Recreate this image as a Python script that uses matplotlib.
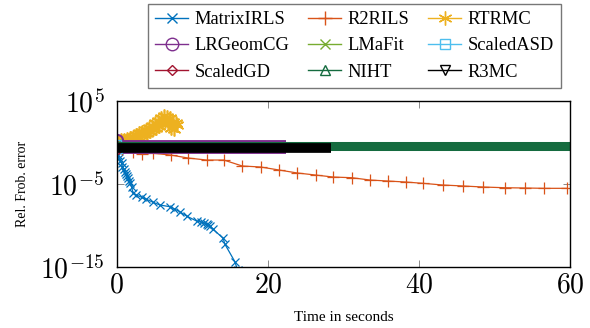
import numpy as np
import matplotlib.pyplot as plt
from matplotlib.lines import Line2D

plt.rcParams['font.family'] = ['Liberation Serif', 'DejaVu Serif']
plt.rcParams['mathtext.fontset'] = 'cm'

# MatrixIRLS
t_mirls = [0.0, 0.1, 0.17, 0.3, 0.45, 0.62, 0.75, 0.9, 1.06, 1.2, 1.35, 1.5, 1.65, 1.8, 1.95,
           2.16, 2.6, 3.3, 3.93, 4.8, 5.7, 7.0, 7.6, 8.34, 9.23, 10.56, 11.2, 11.6, 11.9, 12.1,
           12.3, 12.76, 14.08, 14.3, 15.63, 16.0]
e_mirls = [-0.3, -0.9, -1.5, -1.9, -2.2, -2.5, -2.9, -3.2, -3.52, -3.8, -4.0, -4.31, -4.6, -4.9,
           -5.33, -6.12, -6.33, -6.6, -6.84, -7.2, -7.53, -7.73, -8.0, -8.34, -8.86, -9.46, -9.6,
           -9.75, -9.85, -9.94, -10.05, -10.46, -11.54, -12.23, -14.36, -15.4]

# R2RILS
t_r2 = [0.0, 0.7, 2.1, 3.4, 4.81, 7.15, 9.44, 11.88, 14.17, 16.6, 19.03, 21.46, 23.88, 26.32,
        28.65, 31.09, 33.51, 35.85, 38.23, 40.57, 43.14, 45.87, 48.44, 51.39, 54.04, 56.6, 59.56]
e_r2 = [0.0, -0.8, -1.2, -1.35, -1.30, -1.51, -1.87, -2.11, -2.11, -2.83, -2.95, -3.31, -3.67,
        -3.92, -4.16, -4.24, -4.52, -4.64, -4.76, -4.92, -5.12, -5.24, -5.36, -5.45, -5.48,
        -5.52, -5.52]

# RTRMC (noisy)
t_rt = [0.0, 0.2, 0.4, 0.6, 0.8, 1.0, 1.2, 1.4, 1.6, 1.8, 2.0, 2.2, 2.4, 2.6, 2.8, 3.0, 3.2,
        3.4, 3.6, 3.8, 4.0, 4.2, 4.4, 4.6, 4.8, 5.0, 5.2, 5.4, 5.6, 5.8, 6.0, 6.2, 6.4, 6.6,
        6.8, 7.0, 7.2, 7.4, 7.6, 7.8, 8.0]
e_rt = [0.0, 0.1, 0.05, 0.25, 0.15, 0.3, 0.2, 0.45, 0.3, 0.55, 0.4, 0.7, 0.5, 0.9, 0.7, 1.1,
        0.85, 1.3, 1.0, 1.5, 1.2, 1.8, 1.4, 2.0, 1.6, 2.3, 1.8, 2.6, 2.0, 2.9, 2.3, 3.2, 2.6,
        3.1, 2.3, 2.9, 1.7, 2.5, 1.6, 2.4, 2.1]

# LRGeomCG, NIHT, R3MC (flat, dense markers -> bands)
t_lrg = [0.0, 22.4]
e_lrg = [-0.54, -0.54]
t_niht = [0.0, 60.0]
e_niht = [-0.36, -0.36]
t_r3 = [0.0, 28.4]
e_r3 = [-0.62, -0.62]

# short runs near t = 0
t_lmf = [0.0, 0.2]
e_lmf = [0.0, -0.6]
t_sasd = [0.0, 0.15]
e_sasd = [-0.2, -0.8]
t_sgd = [0.0, 0.2]
e_sgd = [-0.3, -0.9]

names = ['MatrixIRLS', 'R2RILS', 'RTRMC', 'LRGeomCG', 'LMaFit', 'ScaledASD',
         'ScaledGD', 'NIHT', 'R3MC']
colors = ['#0072BD', '#D95319', '#EDB120', '#7E2F8E', '#77AC30', '#4DBEEE',
          '#A2142F', '#156B3F', 'black']
markers = ['x', '+', (6, 2, 0), 'o', 'x', 's', 'D', '^', 'v']

fig = plt.figure(figsize=(5.9, 3.28), dpi=100)
ax = fig.add_axes([0.198, 0.186, 0.768, 0.506])

p = lambda e: 10.0 ** np.array(e)

ax.plot(t_mirls, p(e_mirls), color=colors[0], marker='x', ms=6, mew=0.9, lw=0.9)
ax.plot(t_r2, p(e_r2), color=colors[1], marker='+', ms=9, mew=0.9, lw=0.9)
ax.plot(t_rt, p(e_rt), color=colors[2], marker=(6, 2, 0), ms=10, mew=1.2, lw=0.9)
ax.plot(t_lrg, p(e_lrg), color=colors[3], lw=10, solid_capstyle='butt')
ax.plot([0], [10 ** 0.3], color=colors[3], marker='o', ms=8, mfc='none', mew=1.5)
ax.plot(t_lmf, p(e_lmf), color=colors[4], marker='x', ms=6, lw=0.9)
ax.plot(t_sasd, p(e_sasd), color=colors[5], marker='s', ms=6, mfc='none', lw=0.9)
ax.plot(t_sgd, p(e_sgd), color=colors[6], marker='D', ms=4, mfc='none', lw=0.9)
ax.plot(t_niht, p(e_niht), color=colors[7], lw=6.5, solid_capstyle='butt')
ax.plot(t_r3, p(e_r3), color=colors[8], lw=7, solid_capstyle='butt')

ax.set_yscale('log')
ax.set_xlim(0, 60)
ax.set_ylim(1e-15, 1e5)
ax.set_xticks([0, 20, 40, 60])
ax.set_xticklabels([r'$0$', r'$20$', r'$40$', r'$60$'])
ax.set_yticks([1e-15, 1e-5, 1e5])
ax.set_yticklabels([r'$10^{-15}$', r'$10^{-5}$', r'$10^{5}$'])
ax.yaxis.set_minor_locator(plt.NullLocator())
ax.tick_params(direction='in', top=True, right=True, length=5, width=0.6,
               labelsize=20, color='#777777')
ax.tick_params(axis='y', pad=9)
ax.tick_params(axis='x', pad=5)
for s in ax.spines.values():
    s.set_linewidth(1.0)

ax.set_xlabel('Time in seconds', fontsize=11, labelpad=9)
ax.set_ylabel('Rel. Frob. error', fontsize=10, labelpad=8)

handles = []
for n, c, m in zip(names, colors, markers):
    fill = 'none' if m in ('o', 's', 'D', '^', 'v') else c
    ms = {'D': 5, 'o': 9, '+': 10, (6, 2, 0): 10}.get(m, 7)
    handles.append(Line2D([], [], color=c, marker=m, ms=ms, mfc=fill, lw=1.0, mew=1.0))
# row-major order like the original legend
order = [0, 3, 6, 1, 4, 7, 2, 5, 8]
leg = fig.legend(handles=[handles[i] for i in order], labels=[names[i] for i in order],
                 ncol=3, loc='lower center',
                 bbox_to_anchor=(0.601, 0.732), fontsize=13.3, frameon=True,
                 fancybox=False, edgecolor='#555555', handlelength=1.8,
                 handletextpad=0.35, columnspacing=1.0, borderpad=0.4,
                 labelspacing=0.5, borderaxespad=0)
leg.get_frame().set_linewidth(1.0)

fig.savefig('out.png', dpi=100)
